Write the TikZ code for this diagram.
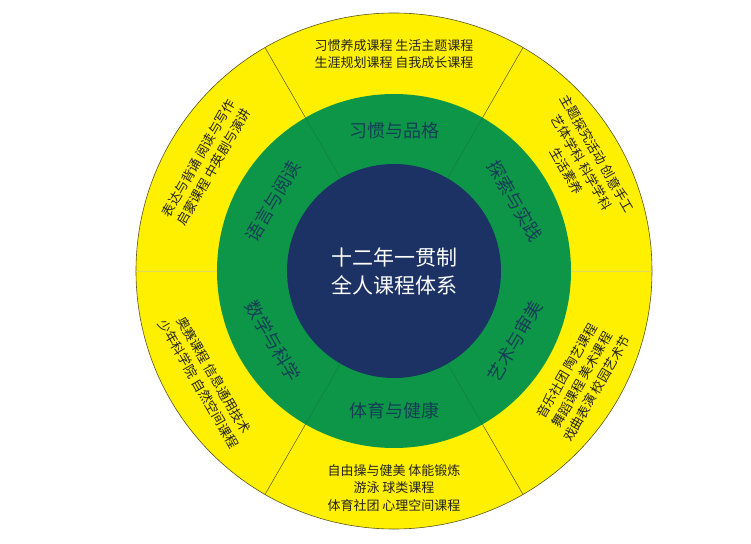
\documentclass[tikz,border=0pt]{standalone}
\usepackage{fontspec}
\newfontfamily\cjk{Noto Sans CJK SC}
\usepackage{tikz}
\usetikzlibrary{positioning}
\definecolor{ringyellow}{RGB}{255,240,0}
\definecolor{ringgreen}{RGB}{14,150,72}
\definecolor{corenavy}{RGB}{28,50,100}
\definecolor{edgeolive}{RGB}{90,85,30}
\definecolor{labelteal}{RGB}{20,62,86}
\definecolor{coursegray}{RGB}{35,35,35}
\tikzstyle{ring} = [circle, inner sep=0pt, outer sep=0pt]
\tikzstyle{divider} = [draw=edgeolive, line width=0.5pt]
\tikzstyle{faintline} = [draw=ringyellow!80!black!60, line width=0.5pt]
\tikzstyle{greenline} = [draw=ringgreen!85!black, line width=0.5pt]
\tikzstyle{arealabel} = [font=\cjk\fontsize{18}{22}\selectfont, text=labelteal]
\tikzstyle{courses} = [font=\cjk\fontsize{13}{17.5}\selectfont, text=coursegray, align=center]

\begin{document}
\begin{tikzpicture}[x=1pt, y=1pt]
                \useasboundingbox (-394,-272) rectangle (357,271);

                % Rings of the wheel
                \node[ring, fill=ringyellow, draw=edgeolive, line width=0.6pt, minimum size=516pt] (outer) at (0,0) {};
                \node[ring, fill=ringgreen, minimum size=354pt] (mid) at (0,0) {};
                \node[ring, fill=corenavy, minimum size=214pt, text=white, align=center,
                      font=\cjk\fontsize{21}{28}\selectfont] (core) at (0,0) {十二年一贯制\\全人课程体系};

                % Dividers between the sectors
                \foreach \a in {60,120,240,300}
                \draw [divider] (mid.\a) -- (outer.\a);
                \foreach \a in {0,180}
                \draw [faintline] (mid.\a) -- (outer.\a);
                \foreach \a in {60,120,240,300}
                \draw [greenline] (core.\a) -- (mid.\a);

                % Areas on the green ring
                \foreach \a/\r/\t [count=\i] in {90/0/习惯与品格, 30/-60/探索与实践, -30/60/艺术与审美,
                                                 270/0/体育与健康, 210/-60/数学与科学, 150/60/语言与阅读}
                \node[arealabel, rotate=\r] (area\i) at (\a:140) {\t};

                % Courses on the yellow ring
                \foreach \a/\r/\t [count=\i] in {
                    90/0/{习惯养成课程 生活主题课程\\生涯规划课程 自我成长课程},
                    30/-60/{主题探究活动 创意手工\\艺体学科 科学学科\\生活素养},
                    -30/60/{音乐社团 陶艺课程\\舞蹈课程 美术课程\\戏曲表演 校园艺术节},
                    270/0/{自由操与健美 体能锻炼\\游泳 球类课程\\体育社团 心理空间课程},
                    210/-60/{奥赛课程 信息通用技术\\少年科学院 自然空间课程},
                    150/60/{表达与背诵 阅读与写作\\启蒙课程 中英剧与演讲}}
                \node[courses, rotate=\r] (course\i) at (\a:217) {\t};
            \end{tikzpicture}
\end{document}
